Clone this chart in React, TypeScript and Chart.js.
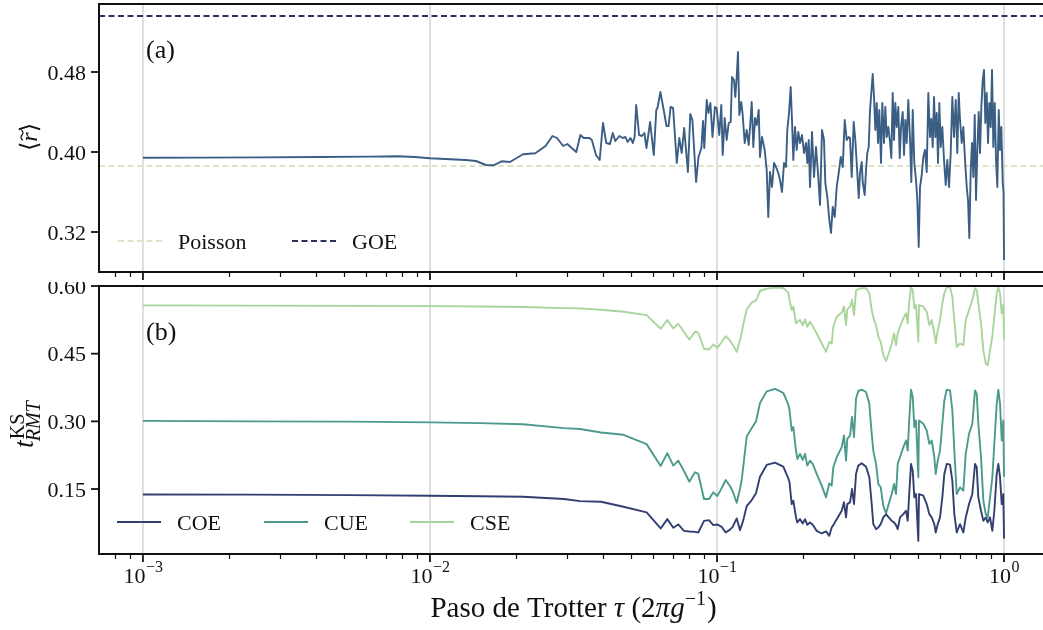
import { useEffect, useRef } from 'react';
import { Chart, registerables } from 'chart.js';

Chart.register(...registerables);

// ---------- panel (a): mean gap ratio vs Trotter step ----------
const tauA = [
  0.001, 0.00158, 0.002557, 0.004137, 0.006179, 0.007736, 0.008866, 0.01,
  0.01331, 0.01446, 0.01567, 0.01664, 0.01778, 0.0190, 0.02109, 0.02328, 0.02528, 0.02672,
  0.02770, 0.02911, 0.03009, 0.03234, 0.03342, 0.03432, 0.03595, 0.03665, 0.03788, 0.03902,
  0.04007, 0.04114, 0.04238, 0.04334, 0.04422, 0.04570, 0.04693, 0.04799, 0.04881, 0.04996,
  0.05093, 0.05163, 0.05230, 0.05353, 0.05474, 0.05585, 0.05680, 0.05847, 0.06023, 0.06145,
  0.06204, 0.06350, 0.06521, 0.06669, 0.06782, 0.06892, 0.07031, 0.07243, 0.07390, 0.07534,
  0.07686, 0.07918, 0.08072, 0.08209, 0.08456, 0.08621, 0.08824, 0.08938, 0.09031, 0.09207,
  0.09333, 0.09484, 0.09646, 0.09833, 0.09968, 0.10186, 0.10351, 0.10468, 0.10637, 0.10809,
  0.10984, 0.11162, 0.11279, 0.11461, 0.11582, 0.11712, 0.11835, 0.11959, 0.12153, 0.12290,
  0.12489, 0.12691, 0.12896, 0.13031, 0.13210, 0.13381, 0.13565, 0.13751, 0.13973, 0.14120,
  0.14348, 0.14662, 0.14899, 0.15092, 0.15299, 0.15547, 0.15798, 0.16054, 0.16353, 0.16577,
  0.16845, 0.17118, 0.17395, 0.17577, 0.17819, 0.18063, 0.18253, 0.18444, 0.18697, 0.18954,
  0.19199, 0.19463, 0.19777, 0.20097, 0.20422, 0.20637, 0.20870, 0.21089, 0.21429, 0.21776,
  0.22128, 0.22487, 0.22850, 0.23220, 0.23595, 0.23843, 0.24228, 0.24620, 0.24958, 0.25301,
  0.25710, 0.26126, 0.26549, 0.26978, 0.27415, 0.27858, 0.28309, 0.28767, 0.29068, 0.29467,
  0.29944, 0.30331, 0.30673, 0.31170, 0.31496, 0.31929, 0.32186, 0.32707, 0.33050, 0.33396,
  0.33773, 0.34128, 0.34485, 0.34875, 0.35240, 0.35610, 0.36012, 0.36390, 0.36771, 0.37276,
  0.37667, 0.38184, 0.38585, 0.39020, 0.39524, 0.40067, 0.40488, 0.40945, 0.41374, 0.41808,
  0.42280, 0.42826, 0.43310, 0.43764, 0.44365, 0.44830, 0.45301, 0.45812, 0.46404, 0.47041,
  0.47534, 0.48071, 0.48693, 0.49361, 0.49879, 0.50442, 0.50971, 0.51671, 0.52338, 0.53057,
  0.53785, 0.54480, 0.55229, 0.55808, 0.56438, 0.57030, 0.57628, 0.58279, 0.58890, 0.59507,
  0.60180, 0.60957, 0.61794, 0.62642, 0.63452, 0.64323, 0.65207, 0.66049, 0.66956, 0.67875,
  0.68753, 0.69529, 0.70258, 0.71223, 0.72143, 0.73133, 0.74138, 0.74916, 0.75700, 0.76556,
  0.77358, 0.78169, 0.79053, 0.79881, 0.80719, 0.81630, 0.82486, 0.83351, 0.84292, 0.85176,
  0.86070, 0.87041, 0.87954, 0.88876, 0.89880, 0.90822, 0.91774, 0.92812, 0.93784, 0.94768,
  0.95838, 0.96843, 0.97858, 0.98962, 0.99600, 1.0,
];
const rMean = [
  0.3943, 0.3944, 0.3946, 0.3950, 0.3954, 0.3957, 0.3950, 0.3937,
  0.392, 0.391, 0.387, 0.3867, 0.3907, 0.390, 0.3977, 0.3987, 0.406, 0.416,
  0.414, 0.406, 0.408, 0.400, 0.417, 0.414, 0.414, 0.412, 0.397, 0.392,
  0.429, 0.409, 0.408, 0.419, 0.411, 0.416, 0.414, 0.415, 0.410, 0.414,
  0.409, 0.415, 0.447, 0.417, 0.416, 0.419, 0.404, 0.430, 0.397, 0.442,
  0.444, 0.460, 0.442, 0.426, 0.426, 0.445, 0.444, 0.389, 0.414, 0.399,
  0.424, 0.380, 0.438, 0.432, 0.370, 0.395, 0.404, 0.431, 0.404, 0.452,
  0.439, 0.449, 0.415, 0.445, 0.444, 0.417, 0.447, 0.397, 0.434, 0.412,
  0.429, 0.430, 0.475, 0.472, 0.455, 0.475, 0.500, 0.437, 0.450, 0.437,
  0.409, 0.422, 0.407, 0.424, 0.450, 0.405, 0.434, 0.427, 0.442, 0.395,
  0.415, 0.402, 0.382, 0.335, 0.380, 0.365, 0.389, 0.385, 0.379, 0.372,
  0.360, 0.389, 0.385, 0.422, 0.439, 0.465, 0.432, 0.392, 0.425, 0.402,
  0.420, 0.409, 0.417, 0.399, 0.409, 0.389, 0.412, 0.365, 0.420, 0.375,
  0.405, 0.379, 0.347, 0.422, 0.412, 0.369, 0.355, 0.332, 0.319, 0.345,
  0.335, 0.365, 0.379, 0.395, 0.385, 0.432, 0.412, 0.415, 0.414, 0.375,
  0.430, 0.412, 0.389, 0.354, 0.379, 0.390, 0.370, 0.357, 0.382, 0.399,
  0.405, 0.442, 0.459, 0.478, 0.455, 0.422, 0.449, 0.409, 0.442, 0.389,
  0.449, 0.409, 0.445, 0.415, 0.425, 0.410, 0.394, 0.459, 0.412, 0.449,
  0.425, 0.445, 0.394, 0.425, 0.440, 0.397, 0.432, 0.409, 0.452, 0.412,
  0.370, 0.442, 0.389, 0.372, 0.352, 0.305, 0.365, 0.377, 0.395, 0.402,
  0.380, 0.459, 0.415, 0.433, 0.405, 0.455, 0.415, 0.439, 0.389, 0.449,
  0.405, 0.425, 0.392, 0.367, 0.392, 0.365, 0.399, 0.455, 0.415, 0.452,
  0.399, 0.459, 0.432, 0.409, 0.425, 0.392, 0.365, 0.352, 0.314, 0.382,
  0.409, 0.375, 0.437, 0.352, 0.402, 0.440, 0.399, 0.445, 0.472, 0.482,
  0.429, 0.459, 0.409, 0.449, 0.425, 0.482, 0.405, 0.449, 0.392, 0.365,
  0.442, 0.402, 0.425, 0.369, 0.360, 0.292,
];
const POISSON_R = 0.386;
const GOE_R = 0.536;

// ---------- panel (b): KS distance to each circular ensemble ----------
const tauB = [
  0.001, 0.00236, 0.005263, 0.01, 0.01494, 0.02109, 0.0293, 0.03332, 0.03943, 0.04723,
  0.05685, 0.06366, 0.06712, 0.07043, 0.07331, 0.07674, 0.08007, 0.08382, 0.08607, 0.0901,
  0.09378, 0.09708, 0.10024, 0.10384, 0.10723, 0.11099, 0.11342, 0.11712, 0.12027, 0.12192,
  0.12349, 0.12691, 0.1321, 0.13674, 0.1412, 0.14899, 0.15925, 0.17022, 0.17719, 0.1789,
  0.18209, 0.18444, 0.18848, 0.19046, 0.19463, 0.19889, 0.20259, 0.20637, 0.21089, 0.2155,
  0.22253, 0.23164, 0.23977, 0.2462, 0.25099, 0.25423, 0.26126, 0.27196, 0.27702, 0.2815,
  0.28445, 0.29068, 0.29538, 0.30016, 0.30502, 0.3107, 0.31929, 0.3305, 0.33936, 0.34596,
  0.35043, 0.3581, 0.36477, 0.37187, 0.3797, 0.38802, 0.39652, 0.40618, 0.41374, 0.42043,
  0.42621, 0.43415, 0.44579, 0.45555, 0.46181, 0.46665, 0.4742, 0.48071, 0.48693, 0.49361,
  0.5028, 0.50563, 0.52338, 0.53785, 0.54919, 0.55987, 0.57168, 0.57813, 0.58748, 0.59842,
  0.60957, 0.61943, 0.63147, 0.64841, 0.66049, 0.67118, 0.68422, 0.70258, 0.72143, 0.73545,
  0.75518, 0.77545, 0.79242, 0.80331, 0.81369, 0.83151, 0.84699, 0.86346, 0.87742, 0.89377,
  0.91041, 0.92514, 0.94312, 0.95531, 0.96843, 0.98173, 0.9944, 1.0,
];
const ksCOE = [
  0.138, 0.1375, 0.1365, 0.1351, 0.134, 0.1329, 0.1278, 0.1233, 0.1218, 0.1107,
  0.0982, 0.0626, 0.0833, 0.064, 0.0715, 0.0573, 0.056, 0.0551, 0.0537, 0.0795,
  0.0811, 0.070, 0.0715, 0.0662, 0.0537, 0.060, 0.0662, 0.0849, 0.0589, 0.070,
  0.0811, 0.1122, 0.1256, 0.1405, 0.1774, 0.2034, 0.2085, 0.1996, 0.1738, 0.165,
  0.1166, 0.1241, 0.0871, 0.076, 0.0833, 0.0737, 0.0833, 0.0707, 0.076, 0.0707,
  0.0573, 0.0515, 0.056, 0.0462, 0.0649, 0.070, 0.083, 0.1018, 0.1205, 0.0871,
  0.1166, 0.1205, 0.150, 0.1166, 0.1834, 0.2019, 0.2072, 0.1996, 0.1761, 0.1166,
  0.0722, 0.0611, 0.065, 0.0722, 0.0871, 0.0944, 0.0871, 0.0796, 0.076, 0.070,
  0.0611, 0.0871, 0.0944, 0.1018, 0.0796, 0.1316, 0.2057, 0.1907, 0.1316, 0.1389,
  0.035, 0.1389, 0.1352, 0.1166, 0.0944, 0.0871, 0.0722, 0.0537, 0.0722, 0.0871,
  0.1316, 0.1834, 0.2057, 0.2042, 0.1686, 0.0944, 0.0537, 0.0722, 0.0537, 0.0871,
  0.1166, 0.1389, 0.2057, 0.1983, 0.1316, 0.1018, 0.0796, 0.0871, 0.076, 0.0871,
  0.0573, 0.1018, 0.1834, 0.2057, 0.1761, 0.1166, 0.1389, 0.0404,
];
const ksCUE = [
  0.301, 0.300, 0.2995, 0.2977, 0.296, 0.2936, 0.285, 0.283, 0.2753, 0.2702,
  0.2495, 0.2012, 0.2294, 0.2019, 0.213, 0.190, 0.1663, 0.1872, 0.1834, 0.1278,
  0.1278, 0.1427, 0.1345, 0.152, 0.170, 0.1567, 0.145, 0.1196, 0.150, 0.170,
  0.200, 0.2664, 0.285, 0.2997, 0.3406, 0.3665, 0.3718, 0.3629, 0.3369, 0.325,
  0.2798, 0.2873, 0.2352, 0.2167, 0.2279, 0.2145, 0.2279, 0.2019, 0.213, 0.2057,
  0.1834, 0.1574, 0.1316, 0.1627, 0.1574, 0.1983, 0.2205, 0.2428, 0.2686, 0.213,
  0.2613, 0.2686, 0.3095, 0.265, 0.3502, 0.3673, 0.3702, 0.3651, 0.339, 0.2724,
  0.235, 0.2057, 0.1612, 0.1538, 0.1129, 0.096, 0.1166, 0.1389, 0.1612, 0.1389,
  0.2057, 0.2205, 0.2428, 0.2576, 0.2352, 0.2946, 0.3702, 0.354, 0.2873, 0.302,
  0.1761, 0.302, 0.2946, 0.2798, 0.2501, 0.2576, 0.2205, 0.1834, 0.213, 0.2352,
  0.2946, 0.3464, 0.3702, 0.3687, 0.3247, 0.2352, 0.1389, 0.1538, 0.1463, 0.2279,
  0.2724, 0.2946, 0.3687, 0.3613, 0.2946, 0.2205, 0.1241, 0.0944, 0.0871, 0.1316,
  0.1761, 0.2501, 0.339, 0.3702, 0.339, 0.2576, 0.302, 0.1774,
];
const ksCSE = [
  0.557, 0.5565, 0.556, 0.5555, 0.5545, 0.5533, 0.551, 0.5504, 0.5475, 0.543,
  0.5355, 0.5052, 0.5244, 0.506, 0.5164, 0.498, 0.4814, 0.4986, 0.4964, 0.4608,
  0.4592, 0.4703, 0.463, 0.476, 0.4888, 0.4792, 0.470, 0.4541, 0.480, 0.4964,
  0.515, 0.5482, 0.563, 0.5682, 0.5889, 0.5942, 0.5964, 0.5956, 0.5853, 0.569,
  0.5466, 0.5542, 0.517, 0.520, 0.5244, 0.5133, 0.5259, 0.5097, 0.5208, 0.511,
  0.4948, 0.4726, 0.4541, 0.4763, 0.4726, 0.5097, 0.532, 0.5408, 0.5542, 0.5133,
  0.5482, 0.5542, 0.5689, 0.5355, 0.5898, 0.5935, 0.5949, 0.5949, 0.5838, 0.5466,
  0.530, 0.5133, 0.4875, 0.4763, 0.4465, 0.4341, 0.4503, 0.4726, 0.4948, 0.4688,
  0.4948, 0.5097, 0.5282, 0.5393, 0.517, 0.5615, 0.5971, 0.5911, 0.5504, 0.5578,
  0.4763, 0.5578, 0.5542, 0.543, 0.5133, 0.5244, 0.4948, 0.4726, 0.5021, 0.5244,
  0.5615, 0.5838, 0.5971, 0.5971, 0.5764, 0.5244, 0.4652, 0.4726, 0.4688, 0.5244,
  0.5466, 0.5689, 0.5949, 0.5911, 0.5615, 0.517, 0.4577, 0.428, 0.4243, 0.4577,
  0.4875, 0.532, 0.5838, 0.5971, 0.5838, 0.5393, 0.5578, 0.4814,
];

// ---------- axes ----------
const decadeTicks = [1e-3, 1e-2, 1e-1, 1];
const decadeExps = ['\u22123', '\u22122', '\u22121', '0'];
const yTicksA = [0.32, 0.4, 0.48];
const yTicksB = [0.15, 0.3, 0.45, 0.6];
const TAU_MIN = 7.03e-4;
const TAU_MAX = 1.367;

const SERIF = '"Liberation Serif", "DejaVu Serif", serif';
const INK = '#111111';
const GRID = '#d7d7d7';
const C_R = '#3b5e85';
const C_POISSON = '#dfe3c6';
const C_GOE = '#2d2f5f';
const C_COE = '#333f70';
const C_CUE = '#4b9a8c';
const C_CSE = '#a9d59c';

const W = 1043;
const H_A = 282;
const H_B = 348;

type LegendItem = { label: string; color: string; dash: number[]; x: number };

const minorTicks: number[] = [];
for (let e = -4; e <= 0; e++) {
  for (let m = 2; m <= 9; m++) {
    const v = m * Math.pow(10, e);
    if (v > TAU_MIN && v < TAU_MAX) minorTicks.push(v);
  }
}

function drawRTitle(ctx: CanvasRenderingContext2D, cx: number, cy: number) {
  ctx.save();
  ctx.translate(cx, cy);
  ctx.rotate(-Math.PI / 2);
  ctx.fillStyle = INK;
  ctx.strokeStyle = INK;
  ctx.textBaseline = 'alphabetic';
  ctx.textAlign = 'left';
  const up = `24px ${SERIF}`;
  const it = `italic 24px ${SERIF}`;
  ctx.font = up;
  const bw = ctx.measureText('\u27E8').width;
  ctx.font = it;
  const rw = ctx.measureText('r').width;
  let u = -(2 * bw + rw) / 2;
  const v = 7;
  ctx.font = up;
  ctx.fillText('\u27E8', u, v);
  u += bw;
  ctx.font = it;
  ctx.fillText('r', u, v);
  // tilde over r
  ctx.lineWidth = 1.2;
  ctx.beginPath();
  const t0 = u + 1.5;
  const t1 = u + rw + 2.5;
  const ty = v - 15;
  ctx.moveTo(t0, ty + 1);
  ctx.bezierCurveTo(t0 + 1.5, ty - 2, (t0 + t1) / 2 - 1, ty - 1, (t0 + t1) / 2, ty);
  ctx.bezierCurveTo((t0 + t1) / 2 + 1, ty + 1, t1 - 1.5, ty + 2, t1, ty - 1);
  ctx.stroke();
  u += rw;
  ctx.font = up;
  ctx.fillText('\u27E9', u, v);
  ctx.restore();
}

function drawKSTitle(ctx: CanvasRenderingContext2D, bx: number, by: number) {
  ctx.save();
  ctx.translate(bx, by);
  ctx.rotate(-Math.PI / 2);
  ctx.fillStyle = INK;
  ctx.textBaseline = 'alphabetic';
  ctx.textAlign = 'left';
  ctx.font = `italic 28px ${SERIF}`;
  ctx.fillText('t', 0, 0);
  const tw = ctx.measureText('t').width;
  ctx.font = `20px ${SERIF}`;
  ctx.fillText('KS', tw + 1, -9);
  ctx.font = `italic 20px ${SERIF}`;
  ctx.fillText('RMT', tw - 1, 7);
  ctx.restore();
}

function makeDecor(opts: {
  id: string;
  yTicks: number[];
  letter: string;
  xLabels: boolean;
  legend: LegendItem[];
  yTitle: (ctx: CanvasRenderingContext2D) => void;
}) {
  return {
    id: opts.id,
    beforeDatasetsDraw(chart: Chart) {
      const { ctx, chartArea: a } = chart;
      const xs = chart.scales.x;
      ctx.save();
      ctx.strokeStyle = GRID;
      ctx.lineWidth = 1.6;
      for (const v of decadeTicks) {
        const px = xs.getPixelForValue(v);
        ctx.beginPath();
        ctx.moveTo(px, a.top);
        ctx.lineTo(px, a.bottom);
        ctx.stroke();
      }
      ctx.restore();
    },
    afterDatasetsDraw(chart: Chart) {
      const { ctx, chartArea: a } = chart;
      const xs = chart.scales.x;
      const ys = chart.scales.y;
      ctx.save();
      ctx.strokeStyle = INK;
      ctx.fillStyle = INK;

      // frame (right side runs off the canvas)
      ctx.lineWidth = 2;
      ctx.beginPath();
      ctx.moveTo(a.right + 4, a.top);
      ctx.lineTo(a.left, a.top);
      ctx.lineTo(a.left, a.bottom);
      ctx.lineTo(a.right + 4, a.bottom);
      ctx.stroke();

      // x ticks
      ctx.lineWidth = 1.2;
      for (const v of minorTicks) {
        const px = Math.round(xs.getPixelForValue(v)) + 0.5;
        ctx.beginPath();
        ctx.moveTo(px, a.bottom);
        ctx.lineTo(px, a.bottom + 5);
        ctx.stroke();
      }
      ctx.lineWidth = 1.8;
      decadeTicks.forEach((v, i) => {
        const px = xs.getPixelForValue(v);
        ctx.beginPath();
        ctx.moveTo(px, a.bottom);
        ctx.lineTo(px, a.bottom + 8);
        ctx.stroke();
        if (opts.xLabels) {
          ctx.font = `22px ${SERIF}`;
          const w1 = ctx.measureText('10').width;
          ctx.font = `16px ${SERIF}`;
          const w2 = ctx.measureText(decadeExps[i]).width;
          const x0 = px - (w1 + w2) / 2;
          ctx.textAlign = 'left';
          ctx.textBaseline = 'alphabetic';
          ctx.font = `22px ${SERIF}`;
          ctx.fillText('10', x0, a.bottom + 29);
          ctx.font = `16px ${SERIF}`;
          ctx.fillText(decadeExps[i], x0 + w1 + 0.5, a.bottom + 18);
        }
      });

      // y ticks and labels
      ctx.lineWidth = 1.8;
      ctx.font = `22px ${SERIF}`;
      ctx.textAlign = 'right';
      ctx.textBaseline = 'alphabetic';
      for (const v of opts.yTicks) {
        const py = ys.getPixelForValue(v);
        ctx.beginPath();
        ctx.moveTo(a.left - 8, py);
        ctx.lineTo(a.left, py);
        ctx.stroke();
        ctx.fillText(v.toFixed(2), a.left - 13, py + 7.5);
      }

      // panel letter
      ctx.font = `26px ${SERIF}`;
      ctx.textAlign = 'left';
      ctx.fillText(opts.letter, 146, 58);

      // legend
      const ly = opts.id === 'decorA' ? 241 : 240;
      for (const item of opts.legend) {
        ctx.strokeStyle = item.color;
        ctx.lineWidth = 2;
        ctx.setLineDash(item.dash);
        ctx.beginPath();
        ctx.moveTo(item.x, ly);
        ctx.lineTo(item.x + 44, ly);
        ctx.stroke();
        ctx.setLineDash([]);
        ctx.fillStyle = INK;
        ctx.font = `22px ${SERIF}`;
        ctx.textAlign = 'left';
        ctx.fillText(item.label, item.x + 60, ly + 7.5);
      }

      opts.yTitle(ctx);

      if (opts.xLabels) {
        // x-axis title: Paso de Trotter τ (2πg⁻¹)
        const big = `29px ${SERIF}`;
        const bigIt = `italic 29px ${SERIF}`;
        const sup = `20px ${SERIF}`;
        const parts: [string, string, number][] = [
          ['Paso de Trotter ', big, 0],
          ['\u03C4', bigIt, 0],
          [' (2', big, 0],
          ['\u03C0', bigIt, 0],
          ['g', bigIt, 0],
          ['\u22121', sup, -12],
          [')', big, 0],
        ];
        let total = 0;
        for (const [s, f] of parts) {
          ctx.font = f;
          total += ctx.measureText(s).width;
        }
        let x = 573 - total / 2;
        ctx.fillStyle = INK;
        ctx.textAlign = 'left';
        for (const [s, f, dy] of parts) {
          ctx.font = f;
          ctx.fillText(s, x, a.bottom + 63 + dy);
          x += ctx.measureText(s).width + (f === sup ? 1 : 0);
        }
      }
      ctx.restore();
    },
  };
}

function pts(xs: number[], ys: number[]) {
  return xs.map((x, i) => ({ x, y: ys[i] }));
}

function baseOptions(yMin: number, yMax: number, bottomPad: number) {
  return {
    animation: false as const,
    responsive: false,
    events: [] as any[],
    layout: { padding: { left: 99, right: 0, top: 4, bottom: bottomPad } },
    plugins: { legend: { display: false }, tooltip: { enabled: false } },
    scales: {
      x: { type: 'logarithmic' as const, min: TAU_MIN, max: TAU_MAX, display: false },
      y: { type: 'linear' as const, min: yMin, max: yMax, display: false },
    },
    elements: {
      point: { radius: 0 },
      line: { tension: 0, borderJoinStyle: 'round' as const },
    },
  };
}

export default function App() {
  const refA = useRef<HTMLCanvasElement>(null);
  const refB = useRef<HTMLCanvasElement>(null);

  useEffect(() => {
    const chartA = new Chart(refA.current!, {
      type: 'line',
      data: {
        datasets: [
          { data: pts(tauA, rMean), borderColor: C_R, borderWidth: 1.9 },
          {
            data: [{ x: TAU_MIN, y: POISSON_R }, { x: TAU_MAX, y: POISSON_R }],
            borderColor: C_POISSON,
            borderWidth: 1.8,
            borderDash: [6, 3.5],
          },
          {
            data: [{ x: TAU_MIN, y: GOE_R }, { x: TAU_MAX, y: GOE_R }],
            borderColor: C_GOE,
            borderWidth: 1.8,
            borderDash: [6, 3.5],
          },
        ],
      },
      options: baseOptions(0.28, 0.548, 10) as any,
      plugins: [
        makeDecor({
          id: 'decorA',
          yTicks: yTicksA,
          letter: '(a)',
          xLabels: false,
          legend: [
            { label: 'Poisson', color: C_POISSON, dash: [6, 3.5], x: 118 },
            { label: 'GOE', color: C_GOE, dash: [6, 3.5], x: 292 },
          ],
          yTitle: (ctx) => drawRTitle(ctx, 30, 137),
        }) as any,
      ],
    });

    const chartB = new Chart(refB.current!, {
      type: 'line',
      data: {
        datasets: [
          { data: pts(tauB, ksCSE), borderColor: C_CSE, borderWidth: 1.9 },
          { data: pts(tauB, ksCUE), borderColor: C_CUE, borderWidth: 1.9 },
          { data: pts(tauB, ksCOE), borderColor: C_COE, borderWidth: 1.9 },
        ],
      },
      options: baseOptions(0.006, 0.6, H_B - 272) as any,
      plugins: [
        makeDecor({
          id: 'decorB',
          yTicks: yTicksB,
          letter: '(b)',
          xLabels: true,
          legend: [
            { label: 'COE', color: C_COE, dash: [], x: 117 },
            { label: 'CUE', color: C_CUE, dash: [], x: 264 },
            { label: 'CSE', color: C_CSE, dash: [], x: 410 },
          ],
          yTitle: (ctx) => drawKSTitle(ctx, 33, 166),
        }) as any,
      ],
    });

    return () => {
      chartA.destroy();
      chartB.destroy();
    };
  }, []);

  return (
    <div style={{ position: 'fixed', left: 0, top: 0, width: W, height: H_A + H_B, background: '#fff' }}>
      <canvas
        ref={refA}
        width={W}
        height={H_A}
        style={{ position: 'absolute', left: 0, top: 0, width: W, height: H_A }}
      />
      <canvas
        ref={refB}
        width={W}
        height={H_B}
        style={{ position: 'absolute', left: 0, top: H_A, width: W, height: H_B }}
      />
    </div>
  );
}
